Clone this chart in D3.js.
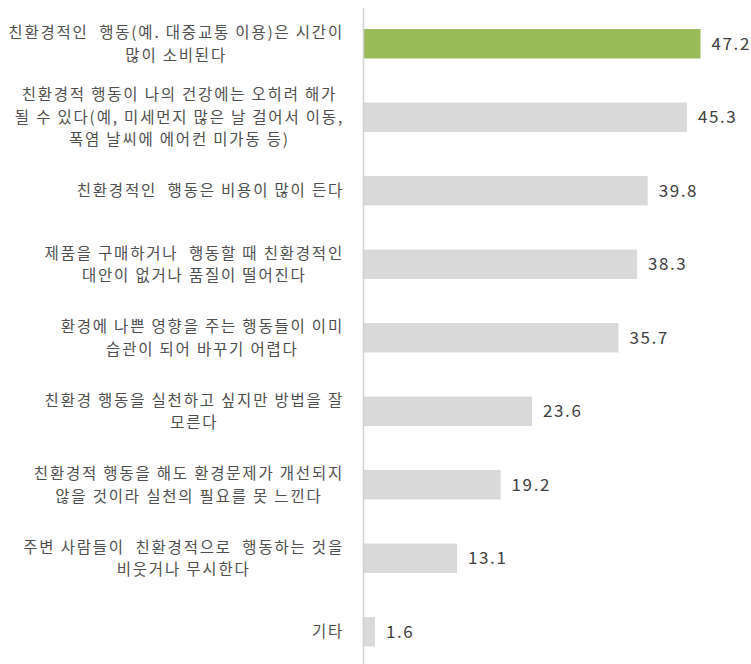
<!DOCTYPE html>
<html>
<head>
<meta charset="utf-8">
<script src="https://cdn.jsdelivr.net/npm/d3@7"></script>
<style>
  body { margin: 0; background: #fff; }
  .lbl { font-family: "Noto Sans CJK KR", sans-serif; font-size: 15.5px; fill: #505050; letter-spacing: 1.8px; white-space: pre; }
  .val { font-family: "Noto Sans CJK KR", sans-serif; font-size: 17px; fill: #404040; letter-spacing: 1.6px; }
</style>
</head>
<body>
<div id="chart"></div>
<script>
// Chart data
var labels = [
  ["친환경적인  행동(예. 대중교통 이용)은 시간이", "많이 소비된다"],
  ["친환경적 행동이 나의 건강에는 오히려 해가", "될 수 있다(예, 미세먼지 많은 날 걸어서 이동,", "폭염 날씨에 에어컨 미가동 등)"],
  ["친환경적인  행동은 비용이 많이 든다"],
  ["제품을 구매하거나  행동할 때 친환경적인", "대안이 없거나 품질이 떨어진다"],
  ["환경에 나쁜 영향을 주는 행동들이 이미", "습관이 되어 바꾸기 어렵다"],
  ["친환경 행동을 실천하고 싶지만 방법을 잘", "모른다"],
  ["친환경적 행동을 해도 환경문제가 개선되지", "않을 것이라 실천의 필요를 못 느낀다"],
  ["주변 사람들이  친환경적으로  행동하는 것을", "비웃거나 무시한다"],
  ["기타"]
];
var values = [47.2, 45.3, 39.8, 38.3, 35.7, 23.6, 19.2, 13.1, 1.6];
var highlight = [true, false, false, false, false, false, false, false, false];

var svgWidth = 751;
var svgHeight = 664;
var axisX = 363.5;

var svg = d3.select('#chart')
  .append('svg')
  .attr('width', svgWidth)
  .attr('height', svgHeight);

var idx = d3.range(values.length);

var x = d3.scaleLinear()
  .domain([0, 50])
  .range([axisX, axisX + 357]);

var y = d3.scaleBand()
  .domain(idx)
  .range([7, 668.5])
  .paddingInner(0.6)
  .paddingOuter(0.3);

// bars
svg.selectAll('rect.bar')
  .data(idx)
  .enter()
  .append('rect')
  .attr('class', 'bar')
  .attr('x', x(0))
  .attr('y', i => y(i))
  .attr('width', i => x(values[i]) - x(0))
  .attr('height', y.bandwidth())
  .attr('fill', i => highlight[i] ? '#9bbb59' : '#d9d9d9');

// vertical axis line
svg.append('line')
  .attr('x1', axisX).attr('x2', axisX)
  .attr('y1', 8).attr('y2', svgHeight)
  .attr('stroke', '#d0d0d0')
  .attr('stroke-width', 1.5);

// value labels
svg.selectAll('text.val')
  .data(idx)
  .enter()
  .append('text')
  .attr('class', 'val')
  .attr('x', i => x(values[i]) + 11)
  .attr('y', i => y(i) + y.bandwidth() / 2)
  .attr('dy', '0.36em')
  .text(i => values[i].toFixed(1));

// category labels: one text per label, lines as tspans, centred lines in a right-aligned block
var lineH = 22.5;
var rightEdge = 344;
idx.forEach(function(i) {
  var lines = labels[i];
  var t = svg.append('text')
    .attr('class', 'lbl')
    .attr('text-anchor', 'middle');
  var spans = lines.map(function(s, k) {
    return t.append('tspan')
      .attr('y', y(i) + y.bandwidth() / 2 + (k - (lines.length - 1) / 2) * lineH)
      .attr('dy', '0.36em')
      .text(s);
  });
  var maxW = d3.max(spans, sp => sp.node().getComputedTextLength());
  spans.forEach(sp => sp.attr('x', rightEdge - maxW / 2));
});
</script>
</body>
</html>
